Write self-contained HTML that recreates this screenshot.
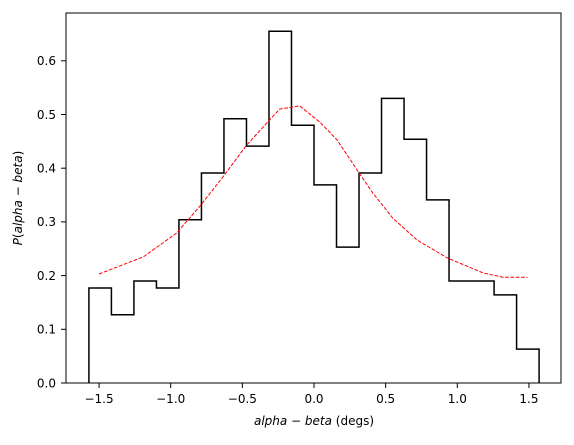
<!DOCTYPE html>
<html><head><meta charset="utf-8"><style>
body{margin:0;background:#fff;}
svg text{font-family:"DejaVu Sans","Liberation Sans",sans-serif;font-size:12px;fill:#000;}
</style></head><body>
<svg id="chart" width="574" height="440" xmlns="http://www.w3.org/2000/svg">
<rect x="0" y="0" width="574" height="440" fill="#fff"/>
<g id="marks"></g>
<rect x="66" y="13" width="495" height="370" fill="none" stroke="#000" stroke-width="1"/>
<g id="axes"></g>
<text x="314" y="425" text-anchor="middle"><tspan font-style="italic">alpha</tspan> − <tspan font-style="italic">beta</tspan> (degs)</text>
<text transform="translate(22,198) rotate(-90)" text-anchor="middle"><tspan font-style="italic">P</tspan>(<tspan font-style="italic">alpha</tspan> − <tspan font-style="italic">beta</tspan>)</text>
</svg>
<script>
const binValues=[0.177,0.127,0.19,0.177,0.304,0.391,0.492,0.441,0.655,0.48,0.369,0.253,0.391,0.53,0.454,0.341,0.19,0.19,0.164,0.063];
const curveX=[-1.5,-1.19,-0.96,-0.80,-0.635,-0.47,-0.33,-0.24,-0.1,0.04,0.16,0.31,0.41,0.55,0.72,0.93,1.18,1.32,1.49];
const curveY=[0.203,0.235,0.279,0.328,0.384,0.443,0.484,0.51,0.516,0.486,0.453,0.393,0.354,0.307,0.266,0.233,0.205,0.197,0.197];
const xTicks=[-1.5,-1.0,-0.5,0.0,0.5,1.0,1.5];
const yTicks=[0.0,0.1,0.2,0.3,0.4,0.5,0.6];
const NS="http://www.w3.org/2000/svg";
const xs=v=>314+v*143.3;
const ys=v=>383-v*537;
const marks=document.getElementById('marks'),axes=document.getElementById('axes');
const w=Math.PI/binValues.length;
let d="M"+xs(-Math.PI/2)+","+ys(0);
binValues.forEach((v,i)=>{const a=xs(-Math.PI/2+i*w),b=xs(-Math.PI/2+(i+1)*w);d+=" L"+a+","+ys(v)+" L"+b+","+ys(v);});
d+=" L"+xs(Math.PI/2)+","+ys(0);
const hist=document.createElementNS(NS,'path');
hist.setAttribute('d',d);hist.setAttribute('fill','none');hist.setAttribute('stroke','#000');hist.setAttribute('stroke-width','1.5');


marks.appendChild(hist);
const curve=document.createElementNS(NS,'polyline');
curve.setAttribute('points',curveX.map((x,i)=>xs(x)+","+ys(curveY[i])).join(' '));
curve.setAttribute('fill','none');curve.setAttribute('stroke','red');curve.setAttribute('stroke-width','1');curve.setAttribute('stroke-dasharray','3.7,1.6');


marks.appendChild(curve);
xTicks.forEach(t=>{
 const l=document.createElementNS(NS,'line');l.setAttribute('x1',xs(t));l.setAttribute('x2',xs(t));l.setAttribute('y1',383);l.setAttribute('y2',388);l.setAttribute('stroke','#000');
 
 
 axes.appendChild(l);
 const tx=document.createElementNS(NS,'text');tx.setAttribute('x',xs(t));tx.setAttribute('y',403);tx.setAttribute('text-anchor','middle');
 tx.textContent=(t<0?'−':'')+Math.abs(t).toFixed(1);
 
 
 axes.appendChild(tx);
});
yTicks.forEach(t=>{
 const l=document.createElementNS(NS,'line');l.setAttribute('x1',61);l.setAttribute('x2',66);l.setAttribute('y1',ys(t));l.setAttribute('y2',ys(t));l.setAttribute('stroke','#000');
 
 
 axes.appendChild(l);
 const tx=document.createElementNS(NS,'text');tx.setAttribute('x',56);tx.setAttribute('y',ys(t)+4.3);tx.setAttribute('text-anchor','end');
 tx.textContent=t.toFixed(1);
 
 
 axes.appendChild(tx);
});
</script>
</body></html>
